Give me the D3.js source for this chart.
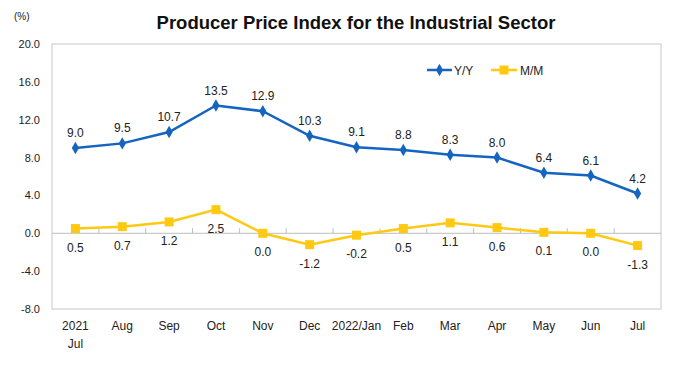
<!DOCTYPE html>
<html>
<head>
<meta charset="utf-8" />
<script src="https://d3js.org/d3.v7.min.js"></script>
<style>
  body { margin: 0; background: #fff; }
  text { font-family: "Liberation Sans", Arial, sans-serif; }
</style>
</head>
<body>
<div id="chart"></div>
<script>
const months = ["2021|Jul", "Aug", "Sep", "Oct", "Nov", "Dec", "2022/Jan", "Feb", "Mar", "Apr", "May", "Jun", "Jul"];
const yoy = [9.0, 9.5, 10.7, 13.5, 12.9, 10.3, 9.1, 8.8, 8.3, 8.0, 6.4, 6.1, 4.2];
const mom = [0.5, 0.7, 1.2, 2.5, 0.0, -1.2, -0.2, 0.5, 1.1, 0.6, 0.1, 0.0, -1.3];
const yTicks = [-8, -4, 0, 4, 8, 12, 16, 20];

const width = 676, height = 372;
const margin = {top: 44, right: 15, bottom: 63, left: 52};
const blue = "#1565c0", yellow = "#ffc912";
const fmt = d => d.toFixed(1); // plain hyphen minus like the original

const svg = d3.select("#chart").append("svg")
  .attr("width", width)
  .attr("height", height);

const x = d3.scaleBand()
  .domain(d3.range(months.length))
  .range([margin.left, width - margin.right]);

const y = d3.scaleLinear()
  .domain([-8, 20])
  .range([height - margin.bottom, margin.top]);

const cx = i => x(i) + x.bandwidth() / 2;

// plot frame
svg.append("rect")
  .attr("x", margin.left)
  .attr("y", margin.top)
  .attr("width", width - margin.right - margin.left)
  .attr("height", height - margin.bottom - margin.top)
  .attr("fill", "none")
  .attr("stroke", "#c8c8c8");

// y axis labels
svg.append("g")
  .selectAll("text")
  .data(yTicks)
  .join("text")
    .attr("x", 40)
    .attr("y", d => y(d) + 4)
    .attr("text-anchor", "end")
    .attr("font-size", 11)
    .attr("fill", "#222")
    .text(fmt);

svg.append("text")
  .attr("x", 14).attr("y", 20)
  .attr("font-size", 10)
  .attr("fill", "#222")
  .text("(%)");

// zero line + category ticks
svg.append("line")
  .attr("x1", margin.left).attr("x2", width - margin.right)
  .attr("y1", y(0)).attr("y2", y(0))
  .attr("stroke", "#bdbdbd");

svg.append("g")
  .selectAll("line")
  .data(d3.range(1, months.length))
  .join("line")
    .attr("x1", i => x(i)).attr("x2", i => x(i))
    .attr("y1", y(0)).attr("y2", y(0) - 5)
    .attr("stroke", "#bdbdbd");

// x labels
const xl = svg.append("g")
  .selectAll("text")
  .data(months)
  .join("text")
    .attr("x", (d, i) => cx(i))
    .attr("y", 330)
    .attr("text-anchor", "middle")
    .attr("font-size", 12)
    .attr("fill", "#222");
xl.each(function(d) {
  const parts = d.split("|");
  d3.select(this).selectAll("tspan")
    .data(parts)
    .join("tspan")
      .attr("x", d3.select(this).attr("x"))
      .attr("dy", (p, j) => j === 0 ? 0 : 18)
      .text(p => p);
});

// title
svg.append("text")
  .attr("x", 356).attr("y", 29)
  .attr("text-anchor", "middle")
  .attr("font-size", 18.5)
  .attr("font-weight", "bold")
  .attr("fill", "#111")
  .text("Producer Price Index for the Industrial Sector");

const line = d3.line().x((d, i) => cx(i)).y(d => y(d));

// M/M series
svg.append("path")
  .datum(mom)
  .attr("d", line)
  .attr("fill", "none")
  .attr("stroke", yellow)
  .attr("stroke-width", 2.5);
svg.append("g")
  .selectAll("rect")
  .data(mom)
  .join("rect")
    .attr("x", (d, i) => cx(i) - 4.5)
    .attr("y", d => y(d) - 4.5)
    .attr("width", 9).attr("height", 9)
    .attr("fill", yellow);
svg.append("g")
  .selectAll("text")
  .data(mom)
  .join("text")
    .attr("x", (d, i) => cx(i))
    .attr("y", d => y(d) + 23)
    .attr("text-anchor", "middle")
    .attr("font-size", 12)
    .attr("fill", "#222")
    .text(fmt);

// Y/Y series
svg.append("path")
  .datum(yoy)
  .attr("d", line)
  .attr("fill", "none")
  .attr("stroke", blue)
  .attr("stroke-width", 2.5);
const diamond = d3.symbol().type(d3.symbolDiamond).size(45);
svg.append("g")
  .selectAll("path")
  .data(yoy)
  .join("path")
    .attr("transform", (d, i) => `translate(${cx(i)},${y(d)})`)
    .attr("d", diamond)
    .attr("fill", blue);
svg.append("g")
  .selectAll("text")
  .data(yoy)
  .join("text")
    .attr("x", (d, i) => cx(i))
    .attr("y", d => y(d) - 11)
    .attr("text-anchor", "middle")
    .attr("font-size", 12)
    .attr("fill", "#222")
    .text(fmt);

// legend
const legend = svg.append("g").attr("transform", "translate(427,70)");
legend.append("line").attr("x1", 0).attr("x2", 25).attr("stroke", blue).attr("stroke-width", 2.5);
legend.append("path").attr("transform", "translate(12.5,0)").attr("d", diamond).attr("fill", blue);
legend.append("text").attr("x", 27).attr("y", 4.5).attr("font-size", 12).attr("fill", "#222").text("Y/Y");
legend.append("line").attr("x1", 64).attr("x2", 90).attr("stroke", yellow).attr("stroke-width", 2.5);
legend.append("rect").attr("x", 72.5).attr("y", -4.5).attr("width", 9).attr("height", 9).attr("fill", yellow);
legend.append("text").attr("x", 93).attr("y", 4.5).attr("font-size", 12).attr("fill", "#222").text("M/M");
</script>
</body>
</html>
